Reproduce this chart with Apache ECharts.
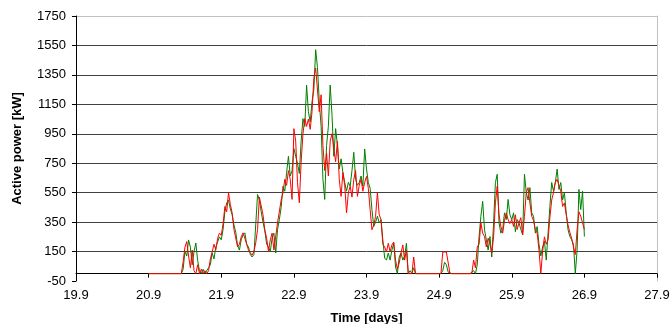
<!DOCTYPE html>
<html>
<head>
<meta charset="utf-8">
<script src="https://cdn.jsdelivr.net/npm/echarts@6/dist/echarts.min.js"></script>
<style>html,body{margin:0;padding:0;background:#fff}#c{width:672px;height:324px}</style>
</head>
<body>
<div id="c"></div>
<script>
// Sampling of the time axis (days)
const startDay = 20.9;
const stepDay = 0.025;

// Axis tick labels
const xTicks = [19.9, 20.9, 21.9, 22.9, 23.9, 24.9, 25.9, 26.9, 27.9];
const yTicks = [-50, 150, 350, 550, 750, 950, 1150, 1350, 1550, 1750];

// Active power [kW], green series
const greenPower = [
  0,0,0,0,0,0,0,0,0,0,0,0,0,0,0,0,0,0,0,
  30,150,120,229,180,60,150,208,90,20,0,30,0,10,40,
  60,140,100,180,215,250,230,300,420,480,500,440,400,330,280,190,160,
  230,263,277,200,181,130,113,130,126,
  538,500,420,350,290,200,181,150,240,275,140,300,367,
  450,594,560,687,797,663,700,850,797,750,680,900,1053,1000,1280,1101,1030,1168,
  1250,1521,1400,1168,1000,641,504,870,1000,1281,
  1076,797,985,870,711,780,687,619,560,620,594,700,824,641,600,
  619,663,594,847,711,619,580,435,320,350,390,345,367,
  229,106,92,140,92,160,206,44,0,113,140,92,120,206,0,20,0,40,0,0,
  0,0,0,0,0,0,0,0,0,0,0,0,0,
  20,77,60,10,
  0,0,0,0,0,0,0,0,0,0,0,0,0,
  20,0,60,252,390,491,298,229,160,252,113,345,619,675,
  345,275,300,413,367,504,400,367,413,284,367,345,300,263,675,551,500,584,413,390,275,320,200,
  120,181,220,92,275,456,619,560,620,710,572,619,500,551,413,298,252,229,200,0,160,572,435,560,252
];

// Active power [kW], red series
const redPower = [
  0,0,0,0,0,0,0,0,0,0,0,0,0,0,0,0,0,0,0,
  80,180,218,120,40,160,20,0,60,0,30,0,20,0,20,
  100,147,200,160,240,275,260,340,456,420,550,470,413,300,298,181,200,
  250,277,240,250,160,140,126,150,209,
  300,520,525,400,298,240,150,229,275,160,147,345,340,
  500,551,641,600,700,640,504,985,900,619,481,757,950,1053,1000,1050,980,1100,
  1328,1397,1397,1100,1215,870,700,820,663,900,
  950,850,760,900,640,525,687,600,413,550,594,520,640,700,525,
  600,640,560,620,660,580,435,298,330,390,551,400,367,
  200,181,147,206,150,195,215,92,30,71,140,195,92,160,0,0,0,113,0,0,
  0,0,0,0,0,0,0,0,0,0,0,0,0,
  147,150,147,140,
  0,0,0,0,0,0,0,0,0,0,0,0,0,
  92,40,181,200,345,275,252,181,241,200,140,250,481,594,
  400,320,275,360,413,367,340,367,320,400,300,345,380,263,390,551,584,480,390,360,300,275,160,
  0,150,250,200,230,380,500,551,620,640,600,560,456,480,400,330,280,240,180,130,300,420,390,400,300
];

function pairs(vals) {
  return vals.map((v, i) => [+(startDay + i * stepDay).toFixed(3), v]);
}

const font = 'Liberation Sans, Arial, sans-serif';
const chart = echarts.init(document.getElementById('c'), null, { renderer: 'canvas' });

const gridColors = yTicks.map((t, i) => i === 0 ? 'rgba(0,0,0,0)' : (i === yTicks.length - 1 ? '#c0c0c0' : '#404040'));

chart.setOption({
  animation: false,
  backgroundColor: '#fff',
  grid: { left: 76, right: 15, top: 16, bottom: 43, containLabel: false, outerBoundsMode: 'none' },
  xAxis: {
    type: 'value',
    min: xTicks[0],
    max: xTicks[xTicks.length - 1],
    interval: 1,
    name: 'Time [days]',
    nameLocation: 'middle',
    nameGap: 31,
    nameTextStyle: { fontFamily: font, fontSize: 13, fontWeight: 'bold', color: '#000' },
    axisLine: { onZero: true, lineStyle: { color: '#000', width: 1 } },
    axisTick: { show: true, inside: false, length: 4, lineStyle: { color: '#000' } },
    axisLabel: { margin: 8, fontFamily: font, fontSize: 13, color: '#000', formatter: v => v.toFixed(1), showMinLabel: true, showMaxLabel: true },
    splitLine: { show: false }
  },
  yAxis: [{
    type: 'value',
    min: yTicks[0],
    max: yTicks[yTicks.length - 1],
    interval: 200,
    name: 'Active power [kW]',
    nameLocation: 'middle',
    nameGap: 52,
    nameTextStyle: { fontFamily: font, fontSize: 13, fontWeight: 'bold', color: '#000' },
    axisLine: { show: true, onZero: false, lineStyle: { color: '#000', width: 1 } },
    axisTick: { show: true, inside: false, length: 4, lineStyle: { color: '#000' } },
    axisLabel: { margin: 10, fontFamily: font, fontSize: 13, color: '#000', formatter: v => String(Math.round(v)), showMinLabel: true, showMaxLabel: true },
    splitLine: { show: true, lineStyle: { color: gridColors, width: 1 } }
  }, {
    type: 'value',
    position: 'right',
    min: yTicks[0],
    max: yTicks[yTicks.length - 1],
    interval: 200,
    axisLine: { show: true, onZero: false, lineStyle: { color: '#c0c0c0', width: 1 } },
    axisTick: { show: false },
    axisLabel: { show: false },
    splitLine: { show: false }
  }],
  series: [{
    name: 'green',
    type: 'line',
    data: pairs(greenPower),
    showSymbol: false,
    symbol: 'none',
    lineStyle: { color: '#008000', width: 1 },
    itemStyle: { color: '#008000' },
    z: 2
  }, {
    name: 'red',
    type: 'line',
    data: pairs(redPower),
    showSymbol: false,
    symbol: 'none',
    lineStyle: { color: '#ff0000', width: 1 },
    itemStyle: { color: '#ff0000' },
    z: 3
  }]
});
</script>
</body>
</html>
